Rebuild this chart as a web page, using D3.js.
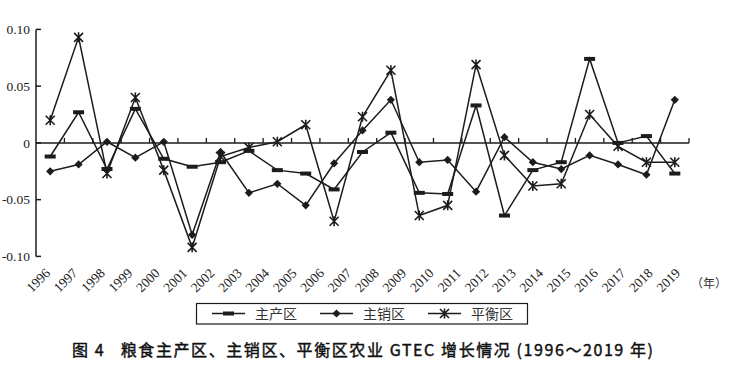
<!DOCTYPE html>
<html>
<head>
<meta charset="utf-8">
<script src="https://cdn.jsdelivr.net/npm/d3@7"></script>
<style>
    body { margin: 0; background: #fff; }
</style>
</head>
<body>
<svg id="chart" width="734" height="372"></svg>
<script>
    // tick labels under the x axis (24 years)
    const yearLabels = ["1996", "1997", "1998", "1999", "2000", "2001", "2002", "2003", "2004", "2005", "2006", "2007",
        "2008", "2009", "2010", "2011", "2012", "2013", "2014", "2015", "2016", "2017", "2018", "2019"];

    // 23 plotted points (one per year-to-year interval)
    const periods = ["96-97", "97-98", "98-99", "99-00", "00-01", "01-02", "02-03", "03-04", "04-05", "05-06", "06-07", "07-08",
        "08-09", "09-10", "10-11", "11-12", "12-13", "13-14", "14-15", "15-16", "16-17", "17-18", "18-19"];

    const yTicks = [0.10, 0.05, 0, -0.05, -0.10];
    const yTickLabels = ["0.10", "0.05", "0", "-0.05", "-0.10"];

    // 主产区
    const mainProduction = [-0.012, 0.027, -0.023, 0.030, -0.014, -0.021, -0.017, -0.007, -0.024, -0.027, -0.041, -0.008,
        0.009, -0.044, -0.045, 0.033, -0.064, -0.024, -0.017, 0.074, 0.000, 0.006, -0.027];
    // 主销区
    const mainSales = [-0.025, -0.019, 0.001, -0.013, 0.001, -0.081, -0.008, -0.044, -0.036, -0.055, -0.018, 0.011,
        0.038, -0.017, -0.015, -0.043, 0.005, -0.017, -0.023, -0.011, -0.019, -0.028, 0.038];
    // 平衡区
    const balanced = [0.020, 0.093, -0.027, 0.040, -0.024, -0.092, -0.012, -0.004, 0.001, 0.016, -0.069, 0.023,
        0.064, -0.064, -0.055, 0.069, -0.011, -0.038, -0.036, 0.025, -0.003, -0.017, -0.017];

    const seriesNames = ["主产区", "主销区", "平衡区"];

    const svg = d3.select("#chart");
    const ink = "#1c1c1c";
    const serif = "'Liberation Serif', 'DejaVu Serif', serif";
    const cjk = "'Noto Sans CJK SC', sans-serif";

    // scales
    const x = d3.scaleBand().domain(periods).range([36, 689]).padding(0);
    const xLabel = d3.scalePoint().domain(yearLabels).range([51, 681]);
    const y = d3.scaleLinear().domain([-0.10, 0.10]).range([256.4, 29.4]);
    const cx = p => x(p) + x.bandwidth() / 2;

    // y axis (ticks pointing inward)
    svg.append("line")
        .attr("x1", 36).attr("x2", 36).attr("y1", y(0.10)).attr("y2", y(-0.10))
        .attr("stroke", ink).attr("stroke-width", 1.5);
    yTicks.forEach((t, i) => {
        svg.append("line")
            .attr("x1", 36).attr("x2", 41).attr("y1", y(t)).attr("y2", y(t))
            .attr("stroke", ink).attr("stroke-width", 1.5);
        svg.append("text")
            .attr("font-family", serif).attr("font-size", 13.5).attr("fill", "#222")
            .attr("x", 30).attr("y", y(t)).attr("dy", "0.35em")
            .attr("text-anchor", "end").text(yTickLabels[i]);
    });

    // zero line with ticks at band boundaries
    svg.append("line")
        .attr("x1", 36).attr("x2", 689).attr("y1", y(0)).attr("y2", y(0))
        .attr("stroke", ink).attr("stroke-width", 1.5);
    periods.forEach(p => {
        const bx = x(p) + x.bandwidth();
        svg.append("line")
            .attr("x1", bx).attr("x2", bx).attr("y1", y(0)).attr("y2", y(0) - 5)
            .attr("stroke", ink).attr("stroke-width", 1.3);
    });

    // rotated year labels
    yearLabels.forEach(yr => {
        svg.append("text")
            .attr("font-family", serif).attr("font-size", 13.5).attr("fill", "#222")
            .attr("text-anchor", "end")
            .attr("transform", `translate(${xLabel(yr)},274) rotate(-45)`)
            .text(yr);
    });
    svg.append("text")
        .attr("font-family", cjk).attr("font-size", 12).attr("fill", "#333")
        .attr("x", 691).attr("y", 288)
        .text("（年）");

    // marker drawing
    function drawMarker(g, kind, px, py) {
        if (kind === 0) {
            g.append("rect").attr("x", px - 5.5).attr("y", py - 2).attr("width", 11).attr("height", 4).attr("fill", ink);
        } else if (kind === 1) {
            g.append("path").attr("d", d3.symbol(d3.symbolSquare, 34)())
                .attr("transform", `translate(${px},${py}) rotate(45)`).attr("fill", ink);
        } else {
            const s = 4.5;
            g.append("path")
                .attr("d", `M${px - s},${py - s}L${px + s},${py + s}M${px - s},${py + s}L${px + s},${py - s}M${px},${py - s - 0.5}L${px},${py + s + 0.5}`)
                .attr("stroke", ink).attr("stroke-width", 1.6).attr("fill", "none");
        }
    }

    const line = d3.line().x(d => cx(d.p)).y(d => y(d.v));
    const allSeries = [mainProduction, mainSales, balanced];
    const plot = svg.append("g");

    allSeries.forEach(vals => {
        const pts = vals.map((v, i) => ({ p: periods[i], v: v }));
        plot.append("path").attr("d", line(pts))
            .attr("fill", "none").attr("stroke", ink).attr("stroke-width", 1.5);
    });
    allSeries.forEach((vals, k) => {
        vals.forEach((v, i) => drawMarker(plot, k, cx(periods[i]), y(v)));
    });

    // legend
    const legend = svg.append("g");
    legend.append("rect").attr("x", 196.5).attr("y", 303.5).attr("width", 331).attr("height", 20.5)
        .attr("fill", "none").attr("stroke", ink).attr("stroke-width", 1.2);
    const legendX = [212, 320, 428];
    seriesNames.forEach((name, k) => {
        const lx = legendX[k];
        legend.append("line").attr("x1", lx).attr("x2", lx + 33).attr("y1", 313.5).attr("y2", 313.5)
            .attr("stroke", ink).attr("stroke-width", 1.5);
        drawMarker(legend, k, lx + 16.5, 313.5);
        legend.append("text")
            .attr("font-family", cjk).attr("font-size", 14).attr("fill", "#333")
            .attr("x", lx + 43).attr("y", 313.5).attr("dy", "0.36em")
            .text(name);
    });

    // caption
    svg.append("text")
        .attr("font-family", cjk).attr("font-size", 16).attr("fill", "#111")
        .attr("stroke", "#111").attr("stroke-width", 0.45)
        .attr("x", 72).attr("y", 356)
        .attr("textLength", 581).attr("lengthAdjust", "spacing")
        .style("white-space", "pre")
        .text("图 4   粮食主产区、主销区、平衡区农业 GTEC 增长情况 (1996～2019 年)");
</script>
</body>
</html>
